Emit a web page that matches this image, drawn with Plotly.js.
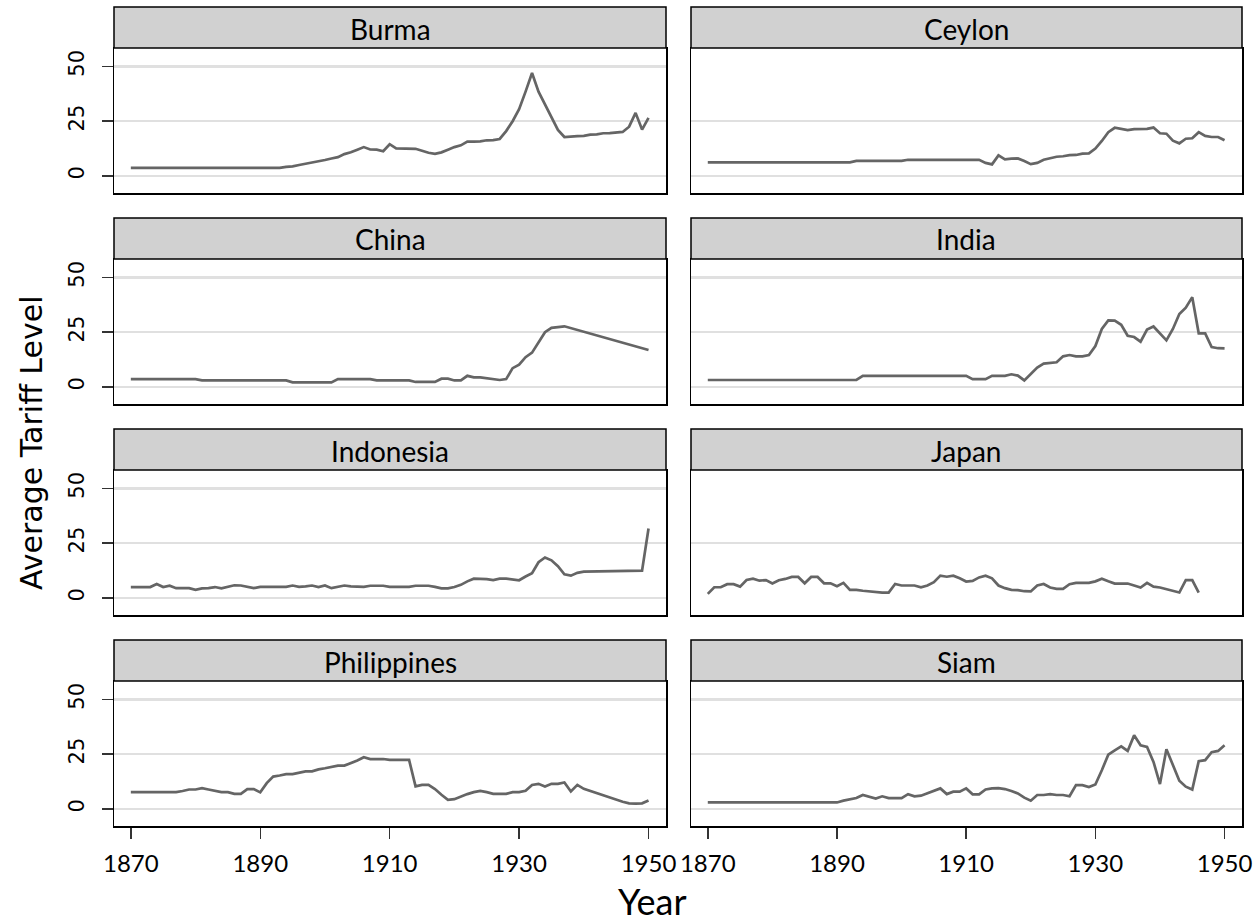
<!DOCTYPE html>
<html>
<head>
<meta charset="utf-8">
<script src="https://cdn.plot.ly/plotly-3.0.1.min.js"></script>
<style>html,body{margin:0;padding:0;background:#fff;}#chart{width:1256px;height:923px;}</style>
</head>
<body>
<div id="chart"></div>
<script>
// ---------------- data ----------------
const years = [1870,1871,1872,1873,1874,1875,1876,1877,1878,1879,
  1880,1881,1882,1883,1884,1885,1886,1887,1888,1889,
  1890,1891,1892,1893,1894,1895,1896,1897,1898,1899,
  1900,1901,1902,1903,1904,1905,1906,1907,1908,1909,
  1910,1911,1912,1913,1914,1915,1916,1917,1918,1919,
  1920,1921,1922,1923,1924,1925,1926,1927,1928,1929,
  1930,1931,1932,1933,1934,1935,1936,1937,1938,1939,
  1940,1941,1942,1943,1944,1945,1946,1947,1948,1949,1950];

const countries = ["Burma","Ceylon","China","India","Indonesia","Japan","Philippines","Siam"];

const burma = [3.7,3.7,3.7,3.7,3.7,3.7,3.7,3.7,3.7,3.7,
  3.7,3.7,3.7,3.7,3.7,3.7,3.7,3.7,3.7,3.7,
  3.7,3.7,3.7,3.7,4.2,4.4,5.0,5.5,6.0,6.7,
  7.3,8.0,8.6,10.0,10.8,12.0,13.2,12.1,12.0,11.3,
  14.5,12.6,12.6,12.6,12.4,11.5,10.6,10.1,10.8,12.0,
  13.2,14.0,15.7,15.7,15.8,16.3,16.4,16.9,20.5,25.0,
  30.5,38.5,47.0,38.5,32.5,26.5,21.0,17.8,18.1,18.2,
  18.3,18.9,19.0,19.5,19.6,20.0,20.1,22.5,28.8,21.2,26.5];

const ceylon = [6.2,6.2,6.2,6.2,6.2,6.2,6.2,6.2,6.2,6.2,
  6.2,6.2,6.2,6.2,6.2,6.2,6.2,6.2,6.2,6.2,
  6.2,6.2,6.2,6.9,6.9,6.9,6.9,6.9,6.9,6.9,
  6.9,7.4,7.4,7.4,7.4,7.4,7.4,7.4,7.4,7.4,
  7.4,7.4,7.4,6.0,5.3,9.4,7.6,7.9,8.0,6.8,
  5.4,6.0,7.4,8.1,8.8,9.0,9.5,9.6,10.2,10.3,
  12.5,16.0,20.0,22.0,21.5,20.9,21.4,21.4,21.5,22.1,
  19.5,19.3,16.1,14.9,17.0,17.2,20.0,18.3,17.8,17.8,16.3];

const chinaYears = years.slice(0, 68).concat([1950]);
const china = [3.6,3.6,3.6,3.6,3.6,3.6,3.6,3.6,3.6,3.6,
  3.6,3.0,3.0,3.0,3.0,3.0,3.0,3.0,3.0,3.0,
  3.0,3.0,3.0,3.0,3.0,2.1,2.1,2.1,2.1,2.1,
  2.1,2.1,3.6,3.6,3.6,3.6,3.6,3.6,3.0,3.0,
  3.0,3.0,3.0,3.0,2.3,2.3,2.3,2.3,3.8,3.8,
  3.0,3.0,5.1,4.4,4.4,3.9,3.7,3.2,3.6,8.6,
  10.2,13.6,15.7,20.5,25.0,27.0,27.2,27.7,
  16.9];

const india = [3.2,3.2,3.2,3.2,3.2,3.2,3.2,3.2,3.2,3.2,
  3.2,3.2,3.2,3.2,3.2,3.2,3.2,3.2,3.2,3.2,
  3.2,3.2,3.2,3.2,5.1,5.1,5.1,5.1,5.1,5.1,
  5.1,5.1,5.1,5.1,5.1,5.1,5.1,5.1,5.1,5.1,
  5.1,3.6,3.6,3.6,5.1,5.1,5.1,5.8,5.2,3.0,
  6.0,8.9,10.7,10.9,11.3,14.0,14.6,14.0,14.0,14.6,
  18.7,26.5,30.4,30.3,28.4,23.4,22.8,20.7,26.2,27.6,
  24.6,21.3,26.5,33.3,36.2,41.0,24.5,24.5,18.2,17.7,17.6];

const indonesiaYears = years.slice(0, 71).concat([1949, 1950]);
const indonesia = [5.0,5.0,5.0,5.0,6.4,5.0,5.6,4.5,4.5,4.5,
  3.7,4.4,4.5,5.0,4.4,5.2,5.8,5.7,5.2,4.5,
  5.1,5.1,5.1,5.1,5.1,5.7,5.1,5.3,5.7,5.0,
  5.7,4.5,5.1,5.7,5.3,5.1,5.1,5.6,5.6,5.6,
  5.1,5.1,5.1,5.1,5.6,5.6,5.6,5.1,4.4,4.4,
  5.0,6.0,7.6,8.8,8.8,8.6,8.2,8.8,8.8,8.6,
  8.1,9.8,11.3,16.3,18.5,17.2,14.5,10.8,10.2,11.5,
  12.0,
  12.5,31.7];

const japanYears = years.slice(0, 77);
const japan = [1.9,4.9,4.9,6.3,6.3,5.2,8.2,8.8,7.9,8.2,
  6.6,8.1,8.7,9.6,9.6,6.7,9.6,9.6,6.7,6.7,
  5.4,6.9,3.7,3.7,3.3,3.0,2.5,2.5,2.5,6.4,
  5.7,5.7,5.7,4.9,5.7,7.2,10.2,9.7,10.2,9.0,
  7.5,7.8,9.4,10.2,9.0,5.7,4.5,3.7,3.6,3.1,
  3.0,5.7,6.4,4.8,4.2,4.2,6.3,6.9,6.9,6.9,
  7.6,8.8,7.6,6.6,6.6,6.6,5.7,4.8,6.9,5.2,
  4.8,4.0,3.3,2.5,8.2,8.2,2.5];

const philippinesYears = years.slice(0, 71).concat([1946, 1947, 1948, 1949, 1950]);
const philippines = [7.7,7.7,7.7,7.7,7.7,7.7,7.7,7.7,8.2,8.9,
  8.9,9.5,8.9,8.3,7.7,7.7,6.9,6.9,9.1,9.1,
  7.6,11.8,14.8,15.3,15.9,15.9,16.6,17.2,17.2,18.1,
  18.6,19.3,19.8,19.8,20.8,22.1,23.6,22.8,22.8,22.8,
  22.4,22.4,22.4,22.4,10.3,11.0,11.0,9.1,6.5,4.2,
  4.5,5.7,6.8,7.7,8.3,7.7,6.9,6.9,6.9,7.7,
  7.7,8.3,11.0,11.5,10.3,11.5,11.5,12.1,8.0,11.0,
  9.2,
  3.3,2.6,2.5,2.6,3.9];

const siam = [3.0,3.0,3.0,3.0,3.0,3.0,3.0,3.0,3.0,3.0,
  3.0,3.0,3.0,3.0,3.0,3.0,3.0,3.0,3.0,3.0,
  3.0,3.8,4.4,5.0,6.4,5.6,4.8,5.8,5.0,5.0,
  5.0,6.8,5.8,6.1,7.1,8.2,9.4,6.8,7.9,7.9,
  9.4,6.7,6.7,8.9,9.4,9.5,9.1,8.2,7.1,5.2,
  3.8,6.4,6.4,6.8,6.4,6.4,5.8,10.9,10.9,10.0,
  11.2,17.7,24.8,26.8,28.6,26.5,33.6,29.1,28.3,21.5,
  11.4,27.3,20.0,12.9,10.2,8.9,21.8,22.3,25.9,26.5,29.1];

const xTickVals = [1870, 1890, 1910, 1930, 1950];
const yTickVals = [0, 25, 50];
// reference lines that appear in each panel
const gridVals = {
  Burma: [0,25,50], Ceylon: [0,25], China: [0,25,50], India: [0,25,50],
  Indonesia: [0,25,50], Japan: [25], Philippines: [0,25,50], Siam: [0,25,50]
};

const series = [
  {name: "Burma", x: years, y: burma},
  {name: "Ceylon", x: years, y: ceylon},
  {name: "China", x: chinaYears, y: china},
  {name: "India", x: years, y: india},
  {name: "Indonesia", x: indonesiaYears, y: indonesia},
  {name: "Japan", x: japanYears, y: japan},
  {name: "Philippines", x: philippinesYears, y: philippines},
  {name: "Siam", x: years, y: siam}
];

// ---------------- layout ----------------
const W = 1256, H = 923;
const colX = [[114, 666], [691, 1242]];
const rowTop = [7, 218, 429, 640];   // header top
const headerH = 41, plotH = 145;
const XR = [1867.4, 1952.7], YR = [-7.75, 58.4];
const fx = p => p / W, fy = p => 1 - p / H;
const SANS = "DejaVu Sans";
const HUM = "Lato";

const traces = [];
const layout = {
  width: W, height: H,
  margin: {l: 0, r: 0, t: 0, b: 0},
  paper_bgcolor: "#ffffff", plot_bgcolor: "#ffffff",
  showlegend: false,
  shapes: [], annotations: []
};

series.forEach((s, i) => {
  const row = Math.floor(i / 2), col = i % 2;
  const k = i === 0 ? "" : String(i + 1);
  const top = rowTop[row] + headerH, bot = top + plotH;
  traces.push({
    type: "scatter", mode: "lines", name: s.name,
    x: s.x, y: s.y, xaxis: "x" + k, yaxis: "y" + k,
    line: {color: "#656565", width: 2.7}, hoverinfo: "x+y"
  });
  const isBottom = row === 3, isLeft = col === 0;
  layout["xaxis" + k] = {
    domain: [fx(colX[col][0]), fx(colX[col][1])],
    anchor: "y" + k, range: XR, fixedrange: true,
    showgrid: false, zeroline: false,
    showline: true, mirror: true, linecolor: "#000", linewidth: 1.5,
    tickmode: "array", tickvals: xTickVals,
    ticks: isBottom ? "outside" : "", ticklen: 11, tickwidth: 1.5, tickcolor: "#333",
    showticklabels: isBottom, ticklabelstandoff: 5,
    tickfont: {family: HUM, size: 24, color: "#000"}
  };
  layout["yaxis" + k] = {
    domain: [fy(bot), fy(top)],
    anchor: "x" + k, range: YR, fixedrange: true,
    zeroline: false,
    showgrid: true, gridcolor: "#e0e0e0", gridwidth: 2.5,
    showline: true, mirror: true, linecolor: "#000", linewidth: 1.5,
    tickmode: "array", tickvals: isLeft ? yTickVals : gridVals[s.name],
    ticks: isLeft ? "outside" : "", ticklen: 11, tickwidth: 1.5, tickcolor: "#333",
    showticklabels: isLeft, tickangle: -90, ticklabelstandoff: 9,
    tickfont: {family: SANS, size: 21, color: "#000"}
  };
  // strip header
  layout.shapes.push({
    type: "rect", xref: "paper", yref: "paper",
    x0: fx(colX[col][0]), x1: fx(colX[col][1]),
    y0: fy(top), y1: fy(rowTop[row]),
    fillcolor: "#d1d1d1", line: {color: "#000", width: 1.5}
  });
  layout.annotations.push({
    xref: "paper", yref: "paper",
    x: fx((colX[col][0] + colX[col][1]) / 2), y: fy(rowTop[row] + headerH / 2 + 1),
    xanchor: "center", yanchor: "middle", showarrow: false,
    text: s.name,
    font: {family: HUM, size: 28, color: "#000"}
  });
});

layout.annotations.push({
  xref: "paper", yref: "paper", x: fx(32), y: fy(443),
  xanchor: "center", yanchor: "middle", showarrow: false, textangle: -90,
  text: "Average Tariff Level",
  font: {family: SANS, size: 30, color: "#000"}
});
layout.annotations.push({
  xref: "paper", yref: "paper", x: fx(652), y: fy(901),
  xanchor: "center", yanchor: "middle", showarrow: false,
  text: "Year",
  font: {family: HUM, size: 36, color: "#000"}
});

Plotly.newPlot("chart", traces, layout, {displayModeBar: false, staticPlot: true});
</script>
</body>
</html>
